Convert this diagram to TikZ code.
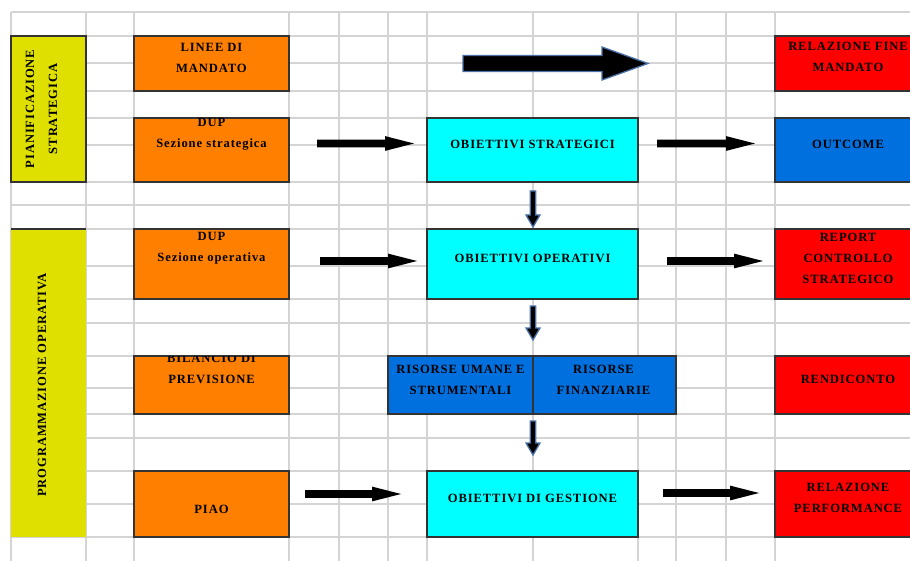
\documentclass[tikz,border=0pt]{standalone}
\usepackage{fontspec}
\setmainfont{Liberation Serif}[LetterSpace=7]
\usetikzlibrary{calc}
\definecolor{gridc}{HTML}{D4D4D4}
\definecolor{yel}{HTML}{E0E000}
\definecolor{org}{HTML}{FF8000}
\definecolor{cya}{HTML}{00FFFF}
\definecolor{blu}{HTML}{0070DF}
\definecolor{rd}{HTML}{FF0000}
\definecolor{edge}{HTML}{333333}
\definecolor{outl}{HTML}{4A72A8}
\newcommand\boxat[6]{\node[cellbox,#6,minimum width={#4pt-#2pt},minimum height={#5pt-#3pt}] (#1) at ({(#2+#4)/2},{(#3+#5)/2}) {};}
\newcommand\harrow[6]{\draw[#1] let \p1=(#2), \p2=(#3) in (\x1,\y1+#4) -- (\x2-#6,\y1+#4) -- (\x2-#6,\y1+#5) -- (\x2,\y1) -- (\x2-#6,\y1-#5) -- (\x2-#6,\y1-#4) -- (\x1,\y1-#4) -- cycle;}
\newcommand\varrow[6]{\draw[#1] let \p1=(#2), \p2=(#3) in (\x1-#4,\y1) -- (\x1-#4,\y2+#6) -- (\x1-#5,\y2+#6) -- (\x1,\y2) -- (\x1+#5,\y2+#6) -- (\x1+#4,\y2+#6) -- (\x1+#4,\y1) -- cycle;}
\tikzset{
  x=1pt,y=-1pt,
  gridline/.style={draw=gridc,line width=1.1pt},
  cellbox/.style={rectangle,draw=edge,line width=1.1pt,inner sep=0pt,outer sep=0pt},
  txt/.style={align=center,inner sep=0pt,font=\fontsize{12.6}{21}\selectfont\bfseries},
  blk/.style={fill=black,draw=none},
  blkout/.style={fill=black,draw=outl,line width=1.3pt,line join=miter},
}
\begin{document}
\begin{tikzpicture}
\useasboundingbox (0,0) rectangle (910,561);
\clip (0,0) rectangle (910,561);
\fill[white] (0,0) rectangle (910,561);
% grid
\foreach \gx in {11,86,134,289,339,388,427,533,638,676,726,775}
  \draw[gridline] (\gx,12) -- (\gx,561);
\foreach \gy in {12,36,63,91,118,145,182,205,229,266,299,323,356,388,414,438,471,504,537}
  \draw[gridline] (11,\gy) -- (910,\gy);
% left yellow blocks
\boxat{ps}{11}{36}{86}{182}{fill=yel}
\node[cellbox,draw=none,fill=yel,minimum width=75pt,minimum height=308pt] (po) at (48.5,383) {};
\draw[edge,line width=1.1pt] (po.north west) -- (po.north east);
% orange blocks
\boxat{lm}{134}{36}{289}{91}{fill=org}
\boxat{dups}{134}{118}{289}{182}{fill=org}
\boxat{dupo}{134}{229}{289}{299}{fill=org}
\boxat{bil}{134}{356}{289}{414}{fill=org}
\boxat{piao}{134}{471}{289}{537}{fill=org}
% centre blocks
\boxat{os}{427}{118}{638}{182}{fill=cya}
\boxat{oo}{427}{229}{638}{299}{fill=cya}
\boxat{rum}{388}{356}{533}{414}{fill=blu}
\boxat{rfi}{533}{356}{676}{414}{fill=blu}
\boxat{og}{427}{471}{638}{537}{fill=cya}
% right blocks
\boxat{rfm}{775}{36}{960}{91}{fill=rd}
\boxat{out}{775}{118}{960}{182}{fill=blu}
\boxat{rcs}{775}{229}{960}{299}{fill=rd}
\boxat{ren}{775}{356}{960}{414}{fill=rd}
\boxat{rp}{775}{471}{960}{537}{fill=rd}
% texts
\node[txt,rotate=90] (tps1) at (30,109) {PIANIFICAZIONE};
\node[txt,rotate=90] (tps2) at (53,109) {STRATEGICA};
\node[txt,rotate=90] (tpo) at (42,385) {PROGRAMMAZIONE OPERATIVA};
\node[txt] (tlm) at (211.5,57.5) {LINEE DI\\MANDATO};
\node[txt] (tdups) at (211.5,134) {DUP\\Sezione strategica};
\node[txt] (tdupo) at (211.5,248) {DUP\\Sezione operativa};
\begin{scope}
\clip (bil.north west) rectangle (bil.south east);
\node[txt] (tbil) at (211.5,368.5) {BILANCIO DI\\PREVISIONE};
\end{scope}
\node[txt] (tpiao) at (211.5,509) {PIAO};
\node[txt] (tos) at (532.5,144) {OBIETTIVI STRATEGICI};
\node[txt] (too) at (532.5,258) {OBIETTIVI OPERATIVI};
\node[txt] (trum) at (460.5,380) {RISORSE UMANE E\\STRUMENTALI};
\node[txt] (trfi) at (603.5,380) {RISORSE\\FINANZIARIE};
\node[txt] (tog) at (532.5,498) {OBIETTIVI DI GESTIONE};
\node[txt] (trfm) at (848,56.5) {RELAZIONE FINE\\MANDATO};
\node[txt] (tout) at (848,144) {OUTCOME};
\node[txt] (trcs) at (848,258) {REPORT\\CONTROLLO\\STRATEGICO};
\node[txt] (tren) at (848,379) {RENDICONTO};
\node[txt] (trp) at (848,498) {RELAZIONE\\PERFORMANCE};
% big arrow
\harrow{blkout}{$(lm.east)+(174,0)$}{$(rfm.west)+(-127,0)$}{8pt}{16.5pt}{46pt}
% horizontal arrows
\harrow{blk}{$(dups.east)+(28,-6.5)$}{$(os.west)+(-13,-6.5)$}{3.8pt}{7.4pt}{29pt}
\harrow{blk}{$(os.east)+(19,-6.5)$}{$(out.west)+(-20,-6.5)$}{3.8pt}{7.4pt}{29pt}
\harrow{blk}{$(dupo.east)+(31,-3)$}{$(oo.west)+(-10,-3)$}{3.8pt}{7.4pt}{29pt}
\harrow{blk}{$(oo.east)+(29,-3)$}{$(rcs.west)+(-12,-3)$}{3.8pt}{7.4pt}{29pt}
\harrow{blk}{$(piao.east)+(16,-10)$}{$(og.west)+(-26,-10)$}{3.8pt}{7.4pt}{29pt}
\harrow{blk}{$(og.east)+(25,-11)$}{$(rp.west)+(-16,-11)$}{3.8pt}{7.4pt}{29pt}
% vertical arrows
\varrow{blkout}{$(os.south)+(0.5,9)$}{$(oo.north)+(0.5,-2)$}{2.8pt}{7pt}{12pt}
\varrow{blkout}{$(oo.south)+(0.5,7)$}{$(rum.south east)+(0,-74)$}{2.8pt}{7pt}{12pt}
\varrow{blkout}{$(rum.south east)+(0,7)$}{$(og.north)+(0.5,-16)$}{2.8pt}{7pt}{12pt}
\end{tikzpicture}
\end{document}
